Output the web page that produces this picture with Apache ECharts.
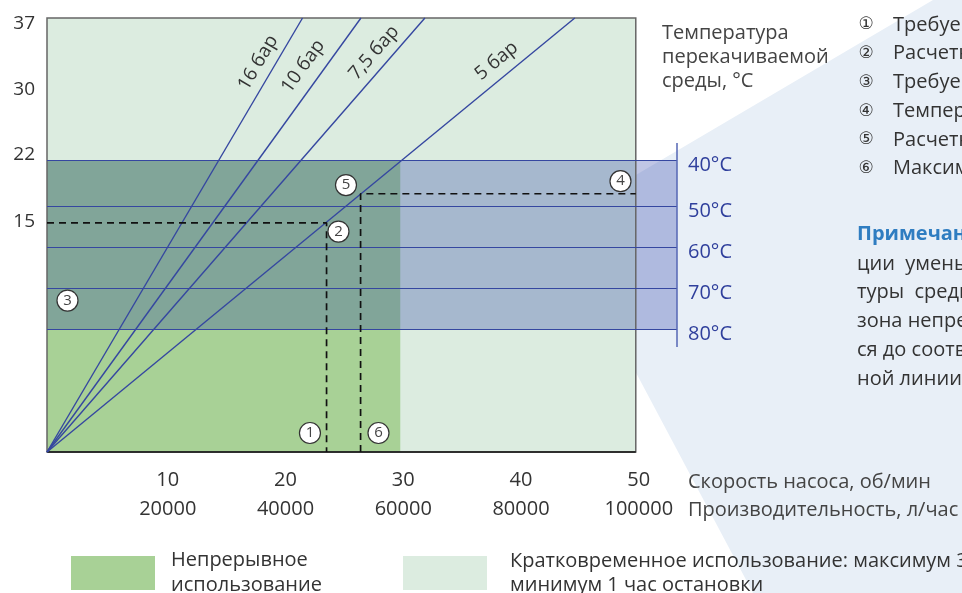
<!DOCTYPE html>
<html><head><meta charset="utf-8">
<script src="https://cdn.jsdelivr.net/npm/echarts@6/dist/echarts.min.js"></script>
<style>html,body{margin:0;padding:0;background:#fff}#c{width:962px;height:593px}</style>
</head><body><div id="c"></div>
<script>
// ---------- data ----------
const speedTicks = [10, 20, 30, 40, 50];
const flowTicks = ['20000', '40000', '60000', '80000', '100000'];
const headTickValues = [53, 68.6, 83.6, 98.7];
const headTickLabels = ['15', '22', '30', '37'];
const pressureNames = ['16 бар', '10 бар', '7,5 бар', '5 бар'];
const pressureTopSpeed = [21.7, 26.66, 32.09, 44.82];
const tempNames = ['40°C', '50°C', '60°C', '70°C', '80°C'];
const tempLevels = [67.2, 56.6, 47.2, 37.7, 28.3];
const tempScaleRange = [24.2, 71.2];
const speedMax = 50, headMax = 100, tempScaleSpeed = 53.5, continuousSpeed = 30;
const requiredSpeed = 23.74, requiredHead = 52.8;
const maxSpeed = 26.63, tempHead = 59.5;
const markerNames = ['1', '2', '3', '4', '5', '6'];
const markerSpeed = [22.33, 24.75, 1.74, 48.7, 25.39, 28.15];
const markerHead = [4.38, 50.8, 34.9, 62.4, 61.5, 4.38];
const legendNames = ['Непрерывное\nиспользование', 'Кратковременное использование: максимум 30 минут работы,\nминимум 1 час остановки'];
const listSymbols = ['①', '②', '③', '④', '⑤', '⑥'];
const listItems = ['Требуемая производительность', 'Расчетная скорость насоса', 'Требуемое давление', 'Температура перекачиваемой среды', 'Расчетная рабочая точка', 'Максимальная скорость насоса'];
const noteTitle = 'Примечание:';
const noteLines = ['при повышении температуры и концентра-', 'ции  уменьшается  давление,  при  повышении  темпера-', 'туры  среды  непрерывного  использования  насоса', 'зона непрерывного использования сокращает-', 'ся до соответствующей температур-', 'ной линии.'];

// ---------- styles ----------
const FONT = '"Open Sans", "Noto Sans", sans-serif';
const FS = 20;
const pressureLabelShift = [25, 34, 21, 56];
const pressureLabelDist = [6, 9, 6, 7];

const chart = echarts.init(document.getElementById('c'), null, {renderer: 'canvas'});

const blank = {type: 'line', data: [], silent: true, symbol: 'none'};

const series = [
  Object.assign({}, blank, {
    name: legendNames[1], z: 1, itemStyle: {color: '#dcece0'},
    markArea: {silent: true, label: {show: false}, itemStyle: {color: '#dcece0'},
      data: [[{coord: [0, 0]}, {coord: [speedMax, headMax]}]]}
  }),
  Object.assign({}, blank, {
    name: legendNames[0], z: 1, itemStyle: {color: '#a8d196'},
    markArea: {silent: true, label: {show: false}, itemStyle: {color: '#a8d196'},
      data: [[{coord: [0, 0]}, {coord: [continuousSpeed, tempLevels[0]]}]]}
  }),
  Object.assign({}, blank, {
    name: 'band', z: 2,
    markArea: {silent: true, label: {show: false}, itemStyle: {color: 'rgba(28,52,160,0.28)'},
      data: [[{coord: [0, tempLevels[tempLevels.length - 1]]}, {coord: [tempScaleSpeed, tempLevels[0]]}]]}
  }),
  Object.assign({}, blank, {
    name: 'frame', z: 3,
    markArea: {silent: true, label: {show: false}, itemStyle: {color: 'rgba(0,0,0,0)', borderColor: '#666', borderWidth: 1.5},
      data: [[{coord: [0, 0]}, {coord: [speedMax, headMax]}]]}
  }),
  Object.assign({}, blank, {
    name: 'temps', z: 4,
    markLine: {silent: true, symbol: 'none', animation: false,
      lineStyle: {color: '#3547a0', width: 1.2, type: 'solid'},
      label: {show: true, position: 'end', distance: 11,
        formatter: p => '{t|' + p.name + '}',
        rich: {t: {color: '#2f3f9c', fontSize: FS, fontFamily: FONT, padding: [10, 0, 0, 0]}}},
      data: tempNames.map((n, i) => [{coord: [0, tempLevels[i]], name: n}, {coord: [tempScaleSpeed, tempLevels[i]]}])
        .concat([[{coord: [tempScaleSpeed, tempScaleRange[0]], label: {show: false}, lineStyle: {color: '#5566b5', width: 1.5}}, {coord: [tempScaleSpeed, tempScaleRange[1]]}]])
    }
  }),
  Object.assign({}, blank, {
    name: 'axis', z: 4,
    markLine: {silent: true, symbol: 'none', animation: false, label: {show: false},
      lineStyle: {color: '#111', width: 1.5, type: 'solid'},
      data: [[{coord: [0, 0]}, {coord: [speedMax, 0]}]]}
  }),
  Object.assign({}, blank, {
    name: 'pressure', z: 5,
    markLine: {silent: true, symbol: 'none', animation: false,
      lineStyle: {color: '#3547a0', width: 1.4, type: 'solid'},
      data: pressureNames.map((n, i) => [
        {coord: [0, 0], name: n, label: {show: true, position: 'insideEndTop', formatter: '{b}', color: '#333', fontSize: 19, fontFamily: FONT, distance: pressureLabelDist[i], padding: [0, pressureLabelShift[i], 0, 0]}},
        {coord: [pressureTopSpeed[i], headMax]}
      ])
    }
  }),
  {type: 'line', name: 'guide1', z: 6, silent: true, symbol: 'none', showSymbol: false,
    lineStyle: {color: '#111', width: 1.7, type: [7, 5]},
    data: [[0, requiredHead], [requiredSpeed, requiredHead], [requiredSpeed, 0]]},
  {type: 'line', name: 'guide2', z: 6, silent: true, symbol: 'none', showSymbol: false,
    lineStyle: {color: '#111', width: 1.7, type: [7, 5]},
    data: [[maxSpeed, 0], [maxSpeed, tempHead], [speedMax, tempHead]]},
  {type: 'scatter', name: 'markers', z: 7, silent: true, symbol: 'circle', symbolSize: 21,
    itemStyle: {color: '#fff', borderColor: '#333', borderWidth: 1.2, opacity: 1},
    label: {show: true, position: 'inside', formatter: p => markerNames[p.dataIndex], color: '#444', fontSize: 15, fontFamily: FONT},
    data: markerSpeed.map((s, i) => [s, markerHead[i]])}
];

const txt = (text, x, y, extra) => Object.assign({
  type: 'text', z: 10, silent: true,
  style: Object.assign({text: text, x: x, y: y, font: FS + 'px ' + FONT, fill: '#333', textVerticalAlign: 'middle', verticalAlign: 'middle'}, extra || {})
});

const graphics = [
  {type: 'polygon', z: 0, silent: true, shape: {points: [[933, 0], [962, 0], [962, 593], [753, 593], [556, 222]]}, style: {fill: '#e8eff7'}},
  {type: 'text', z: 10, silent: true, style: {text: 'Температура\nперекачиваемой\nсреды, °C', x: 662, y: 21, font: FS + 'px ' + FONT, fill: '#444', lineHeight: 24}},
  txt('Скорость насоса, об/мин', 688, 482, {fill: '#444'}),
  txt('Производительность, л/час', 688, 510, {fill: '#444'}),
];
listItems.forEach((t, i) => {
  graphics.push(txt(listSymbols[i], 866, 25 + 28.7 * i, {font: '17px "DejaVu Sans", "Noto Sans CJK SC"', fill: '#333', textAlign: 'center', align: 'center'}));
  graphics.push(txt(t, 893, 25 + 28.7 * i, {fill: '#333'}));
});
graphics.push(txt(noteTitle + ' ' + noteLines[0], 857, 234, {
  text: '{t|' + noteTitle + '} ' + noteLines[0],
  rich: {t: {fill: '#2f7dc1', fontWeight: 'bold', fontSize: FS, fontFamily: FONT}}
}));
noteLines.slice(1).forEach((t, i) => graphics.push(txt(t, 857, 264 + 28.7 * i)));

const legendBase = {padding: 0, itemWidth: 84, itemHeight: 34, icon: 'rect', selectedMode: false, orient: 'horizontal'};

chart.setOption({
  animation: false,
  textStyle: {fontFamily: FONT},
  grid: {left: 47, top: 18, right: 285, bottom: 141},
  xAxis: {
    type: 'value', min: 0, max: tempScaleSpeed,
    axisLine: {show: false}, axisTick: {show: false}, splitLine: {show: false},
    axisLabel: {
      customValues: speedTicks, margin: 14, padding: [0, 0, 0, 6],
      formatter: v => '{a|' + v + '}\n{a|' + flowTicks[speedTicks.indexOf(v)] + '}',
      rich: {a: {fontSize: FS, lineHeight: 29, color: '#333', fontFamily: FONT}}
    }
  },
  yAxis: {
    type: 'value', min: 0, max: headMax,
    axisLine: {show: false}, axisTick: {show: false}, splitLine: {show: false},
    axisLabel: {customValues: headTickValues, margin: 12, fontSize: 19, color: '#333', fontFamily: FONT,
      formatter: v => headTickLabels[headTickValues.indexOf(v)]}
  },
  legend: [
    Object.assign({}, legendBase, {data: [legendNames[0]], left: 71, top: 548,
      textStyle: {fontSize: FS, color: '#333', lineHeight: 25, fontFamily: FONT, padding: [0, 0, 0, 11]}}),
    Object.assign({}, legendBase, {data: [legendNames[1]], left: 403, top: 549,
      textStyle: {fontSize: FS, color: '#333', lineHeight: 24, fontFamily: FONT, padding: [0, 0, 0, 18]}})
  ],
  graphic: graphics,
  series: series
});
</script></body></html>
